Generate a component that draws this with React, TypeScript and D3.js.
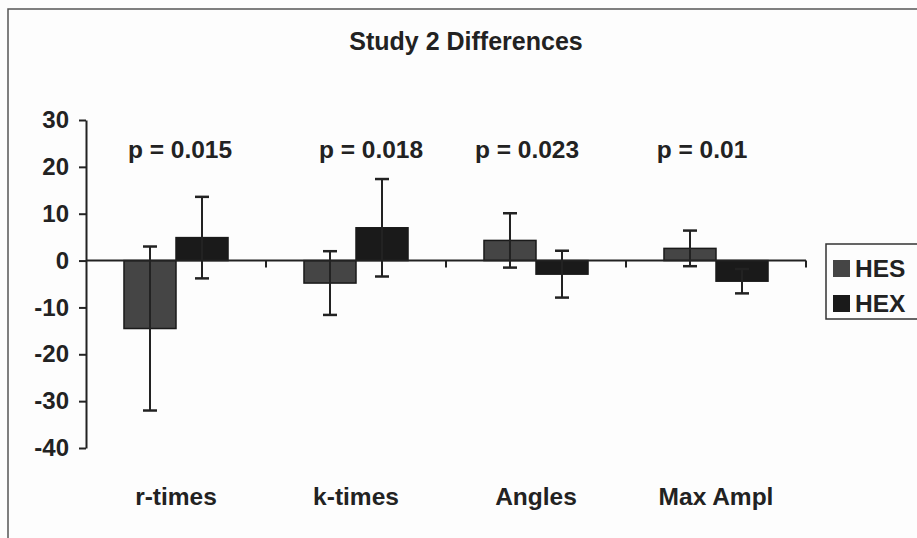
import { useEffect, useRef } from "react";
import * as d3 from "d3";

// values
const categories = ["r-times", "k-times", "Angles", "Max Ampl"];
const seriesNames = ["HES", "HEX"];
const hesValues = [-14.5, -4.8, 4.3, 2.6];
const hesErrors = [17.5, 6.8, 5.8, 3.8];
const hexValues = [4.9, 7.0, -2.9, -4.4];
const hexErrors = [8.7, 10.4, 5.0, 2.6];
const pValues = ["p = 0.015", "p = 0.018", "p = 0.023", "p = 0.01"];
const yTicks = [30, 20, 10, 0, -10, -20, -30, -40];

// the p labels are not quite centred over their groups in the original
const pNudge = [4, 15, -9, -14];

const colors = { HES: "#454545", HEX: "#1a1a1a" };
const font = "'Liberation Sans', Arial, sans-serif";

export default function App() {
  const ref = useRef<SVGSVGElement>(null);

  useEffect(() => {
    const svg = d3.select(ref.current);
    svg.selectAll("*").remove();

    const width = 917;
    const height = 538;
    const margin = { top: 120, bottom: 90, left: 86, right: 111 };

    svg.append("rect")
      .attr("width", width)
      .attr("height", height)
      .attr("fill", "#fdfdfd");

    // outer chart frame, runs off the right and bottom edges
    svg.append("rect")
      .attr("x", 8)
      .attr("y", 9)
      .attr("width", 1000)
      .attr("height", 1000)
      .attr("fill", "none")
      .attr("stroke", "#555")
      .attr("stroke-width", 1.5);

    svg.append("text")
      .attr("x", 466)
      .attr("y", 50)
      .attr("text-anchor", "middle")
      .attr("font-family", font)
      .attr("font-weight", "bold")
      .attr("font-size", 25)
      .attr("fill", "#222")
      .text("Study 2 Differences");

    const x = d3.scaleBand()
      .domain(categories)
      .range([margin.left, width - margin.right])
      .padding(0);

    const inner = d3.scaleBand()
      .domain(seriesNames)
      .range([0, x.bandwidth()])
      .paddingInner(0)
      .paddingOuter(0.73);

    const y = d3.scaleLinear()
      .domain([-40, 30])
      .range([height - margin.bottom, margin.top]);

    const data = categories.map((c, i) => ({
      category: c,
      bars: [
        { name: "HES", value: hesValues[i], err: hesErrors[i] },
        { name: "HEX", value: hexValues[i], err: hexErrors[i] },
      ],
    }));

    // y axis, plain hyphen for negatives like the original
    const yAxis = svg.append("g")
      .attr("transform", `translate(${margin.left},0)`)
      .call(d3.axisLeft(y)
        .tickValues(yTicks)
        .tickFormat(d => String(d))
        .tickSize(7)
        .tickSizeOuter(0)
        .tickPadding(10));
    yAxis.select(".domain").attr("stroke", "#222").attr("stroke-width", 2);
    yAxis.selectAll(".tick line").attr("stroke", "#222").attr("stroke-width", 2);
    yAxis.selectAll(".tick text")
      .attr("font-family", font)
      .attr("font-weight", "bold")
      .attr("font-size", 24)
      .attr("fill", "#222");

    // bars
    const groups = svg.selectAll(".cat")
      .data(data)
      .join("g")
      .attr("class", "cat")
      .attr("transform", d => `translate(${x(d.category)},0)`);

    groups.selectAll("rect")
      .data(d => d.bars)
      .join("rect")
      .attr("x", d => inner(d.name)!)
      .attr("y", d => y(Math.max(0, d.value)))
      .attr("width", inner.bandwidth())
      .attr("height", d => Math.abs(y(d.value) - y(0)))
      .attr("fill", d => colors[d.name as "HES" | "HEX"])
      .attr("stroke", "#1a1a1a")
      .attr("stroke-width", 1.5);

    // x axis line at zero with ticks hanging down between the groups
    svg.append("line")
      .attr("x1", margin.left)
      .attr("x2", width - margin.right)
      .attr("y1", y(0))
      .attr("y2", y(0))
      .attr("stroke", "#222")
      .attr("stroke-width", 2);

    const tickXs = categories.slice(1).map(c => x(c)!).concat([x.range()[1]]);
    svg.selectAll(".xtick")
      .data(tickXs)
      .join("line")
      .attr("class", "xtick")
      .attr("x1", d => d)
      .attr("x2", d => d)
      .attr("y1", y(0))
      .attr("y2", y(0) + 7)
      .attr("stroke", "#222")
      .attr("stroke-width", 2);

    // error bars
    const errs = groups.selectAll(".err")
      .data(d => d.bars)
      .join("g")
      .attr("class", "err")
      .attr("transform", d => `translate(${inner(d.name)! + inner.bandwidth() / 2},0)`);
    errs.append("line")
      .attr("y1", d => y(d.value + d.err))
      .attr("y2", d => y(d.value - d.err))
      .attr("stroke", "#222")
      .attr("stroke-width", 2);
    errs.selectAll(".cap")
      .data(d => [d.value + d.err, d.value - d.err])
      .join("line")
      .attr("class", "cap")
      .attr("x1", -7)
      .attr("x2", 7)
      .attr("y1", d => y(d))
      .attr("y2", d => y(d))
      .attr("stroke", "#222")
      .attr("stroke-width", 2.5);

    // p-values
    svg.selectAll(".pval")
      .data(pValues)
      .join("text")
      .attr("class", "pval")
      .attr("x", (d, i) => x(categories[i])! + x.bandwidth() / 2 + pNudge[i])
      .attr("y", 158)
      .attr("text-anchor", "middle")
      .attr("font-family", font)
      .attr("font-weight", "bold")
      .attr("font-size", 24.5)
      .attr("fill", "#222")
      .text(d => d);

    // category labels
    svg.selectAll(".catlabel")
      .data(categories)
      .join("text")
      .attr("class", "catlabel")
      .attr("x", d => x(d)! + x.bandwidth() / 2)
      .attr("y", 505)
      .attr("text-anchor", "middle")
      .attr("font-family", font)
      .attr("font-weight", "bold")
      .attr("font-size", 24.5)
      .attr("fill", "#222")
      .text(d => d);

    // legend
    const legend = svg.append("g").attr("transform", "translate(826,244)");
    legend.append("rect")
      .attr("width", 200)
      .attr("height", 75)
      .attr("fill", "#fdfdfd")
      .attr("stroke", "#333")
      .attr("stroke-width", 1.5);
    const items = legend.selectAll(".item")
      .data(seriesNames)
      .join("g")
      .attr("class", "item")
      .attr("transform", (d, i) => `translate(7,${16 + i * 35})`);
    items.append("rect")
      .attr("width", 17)
      .attr("height", 17)
      .attr("fill", d => colors[d as "HES" | "HEX"]);
    items.append("text")
      .attr("x", 22)
      .attr("y", 17)
      .attr("font-family", font)
      .attr("font-weight", "bold")
      .attr("font-size", 24.5)
      .attr("fill", "#222")
      .text(d => d);
  }, []);

  return (
    <svg
      ref={ref}
      width={917}
      height={538}
      style={{ position: "absolute", left: 0, top: 0 }}
    />
  );
}
